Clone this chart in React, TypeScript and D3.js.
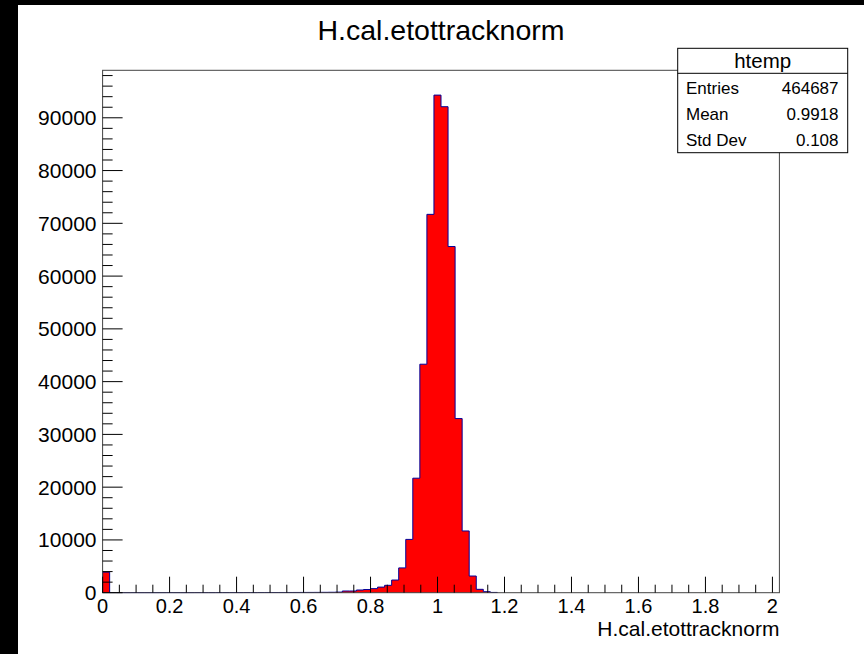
import React from "react";
import * as d3 from "d3";

// ---- data ----
const X_MIN = 0;
const X_MAX = 2.0208;
const Y_MAX = 99000;
const binCounts: number[] = [
  3900,
  30, 25, 20, 22, 18, 20, 19, 21, 24, 22, 20, 23, 25, 24, 26, 28, 27, 30, 29, 32, 31, 35, 38, 36, 40, 42, 45, 50, 55, 60, 70,
  80, 110, 320, 320, 510, 600, 770, 1060, 1400, 2400, 4700, 10100, 21700, 43300, 71700, 94300, 92100, 65600, 33000, 11700, 3160, 640, 190, 50,
  0, 0, 0, 0, 0, 0, 0, 0, 0, 0, 0, 0, 0, 0, 0, 0, 0, 0, 0, 0,
  0, 0, 0, 0, 0, 0, 0, 0, 0, 0, 0, 0, 0, 0, 0, 0, 0, 0, 0, 0,
];
const xTickValues = [0, 0.2, 0.4, 0.6, 0.8, 1, 1.2, 1.4, 1.6, 1.8, 2];
const xTickLabels = ["0", "0.2", "0.4", "0.6", "0.8", "1", "1.2", "1.4", "1.6", "1.8", "2"];
const yTickValues = [0, 10000, 20000, 30000, 40000, 50000, 60000, 70000, 80000, 90000];
const yTickLabels = ["0", "10000", "20000", "30000", "40000", "50000", "60000", "70000", "80000", "90000"];
const X_MINOR_STEP = 0.05;
const Y_MINOR_STEP = 2000;
const TITLE = "H.cal.etottracknorm";
const X_TITLE = "H.cal.etottracknorm";
const STATS_NAME = "htemp";
const statsLabels = ["Entries", "Mean", "Std Dev"];
const statsValues = ["464687", "0.9918", "0.108"];

// ---- layout ----
const W = 864;
const H = 654;
const CANVAS_X = 18;
const CANVAS_Y = 5;
const FRAME = { left: 102.6, right: 779.4, top: 70.3, bottom: 592.7 };
const FONT = "'Liberation Sans', Arial, Helvetica, sans-serif";

export default function App() {
  const x = d3.scaleLinear().domain([X_MIN, X_MAX]).range([FRAME.left, FRAME.right]);
  const y = d3.scaleLinear().domain([0, Y_MAX]).range([FRAME.bottom, FRAME.top]);
  const nb = binCounts.length;
  const bw = (X_MAX - X_MIN) / nb;
  let last = 0;
  binCounts.forEach((v, i) => { if (v > 0) last = i; });

  const pts: [number, number][] = [[x(X_MIN), y(0)]];
  for (let i = 0; i <= last; i++) {
    const v = binCounts[i];
    pts.push([x(X_MIN + i * bw), y(v)]);
    pts.push([x(X_MIN + (i + 1) * bw), y(v)]);
  }
  pts.push([x(X_MIN + (last + 1) * bw), y(0)]);
  const line = d3.line<[number, number]>().x((d) => d[0]).y((d) => d[1]);
  const outline = line(pts) || "";
  const fillPath = outline + "Z";

  const xMinor = d3.range(0, 2.0001, X_MINOR_STEP).filter((v) => !xTickValues.some((m) => Math.abs(m - v) < 1e-6));
  const yMinor = d3.range(0, Y_MAX, Y_MINOR_STEP).filter((v) => v % 10000 !== 0);

  const box = { left: 677.7, right: 847.7, top: 48.3, sep: 73.3, bottom: 152.7 };
  const rowBase = [94, 120, 145.7];

  return (
    <svg width={W} height={H} style={{ position: "absolute", left: 0, top: 0, display: "block" }} fontFamily={FONT}>
      <rect x={0} y={0} width={W} height={H} fill="#000" />
      <rect x={CANVAS_X} y={CANVAS_Y} width={W - CANVAS_X} height={H - CANVAS_Y} fill="#fff" />

      {/* histogram */}
      <path d={fillPath} fill="#ff0000" stroke="none" />
      <path d={outline} fill="none" stroke="#000099" strokeWidth={1} />

      {/* frame */}
      <rect x={FRAME.left} y={FRAME.top} width={FRAME.right - FRAME.left} height={FRAME.bottom - FRAME.top}
        fill="none" stroke="#444" strokeWidth={1} />

      {/* x ticks */}
      {xTickValues.map((v) => (
        <line key={"xm" + v} x1={x(v)} x2={x(v)} y1={FRAME.bottom} y2={FRAME.bottom - 16} stroke="#000" strokeWidth={1} />
      ))}
      {xMinor.map((v) => (
        <line key={"xn" + v} x1={x(v)} x2={x(v)} y1={FRAME.bottom} y2={FRAME.bottom - 8} stroke="#000" strokeWidth={1} />
      ))}
      {xTickValues.map((v, i) => (
        <text key={"xl" + v} x={x(v)} y={612.7} fontSize={20} textAnchor="middle" fill="#000">{xTickLabels[i]}</text>
      ))}

      {/* y ticks */}
      {yTickValues.map((v) => (
        <line key={"ym" + v} x1={FRAME.left} x2={FRAME.left + 20} y1={y(v)} y2={y(v)} stroke="#000" strokeWidth={1} />
      ))}
      {yMinor.map((v) => (
        <line key={"yn" + v} x1={FRAME.left} x2={FRAME.left + 10} y1={y(v)} y2={y(v)} stroke="#000" strokeWidth={1} />
      ))}
      {yTickValues.map((v, i) => (
        <text key={"yl" + v} x={96.5} y={y(v) + 7.5} fontSize={21} textAnchor="end" fill="#000">{yTickLabels[i]}</text>
      ))}

      {/* titles */}
      <text x={CANVAS_X + (W - CANVAS_X) / 2} y={40} fontSize={28.5} textAnchor="middle" fill="#000">{TITLE}</text>
      <text x={FRAME.right} y={635.7} fontSize={21} textAnchor="end" fill="#000">{X_TITLE}</text>

      {/* stats box */}
      <rect x={box.left} y={box.top} width={box.right - box.left} height={box.bottom - box.top} fill="#fff" stroke="#000" strokeWidth={1} />
      <line x1={box.left} x2={box.right} y1={box.sep} y2={box.sep} stroke="#000" strokeWidth={1} />
      <text x={(box.left + box.right) / 2} y={67.7} fontSize={20.5} textAnchor="middle" fill="#000">{STATS_NAME}</text>
      {statsLabels.map((l, i) => (
        <g key={l}>
          <text x={686} y={rowBase[i]} fontSize={17} fill="#000">{l}</text>
          <text x={838.5} y={rowBase[i]} fontSize={17} textAnchor="end" fill="#000">{statsValues[i]}</text>
        </g>
      ))}
    </svg>
  );
}
